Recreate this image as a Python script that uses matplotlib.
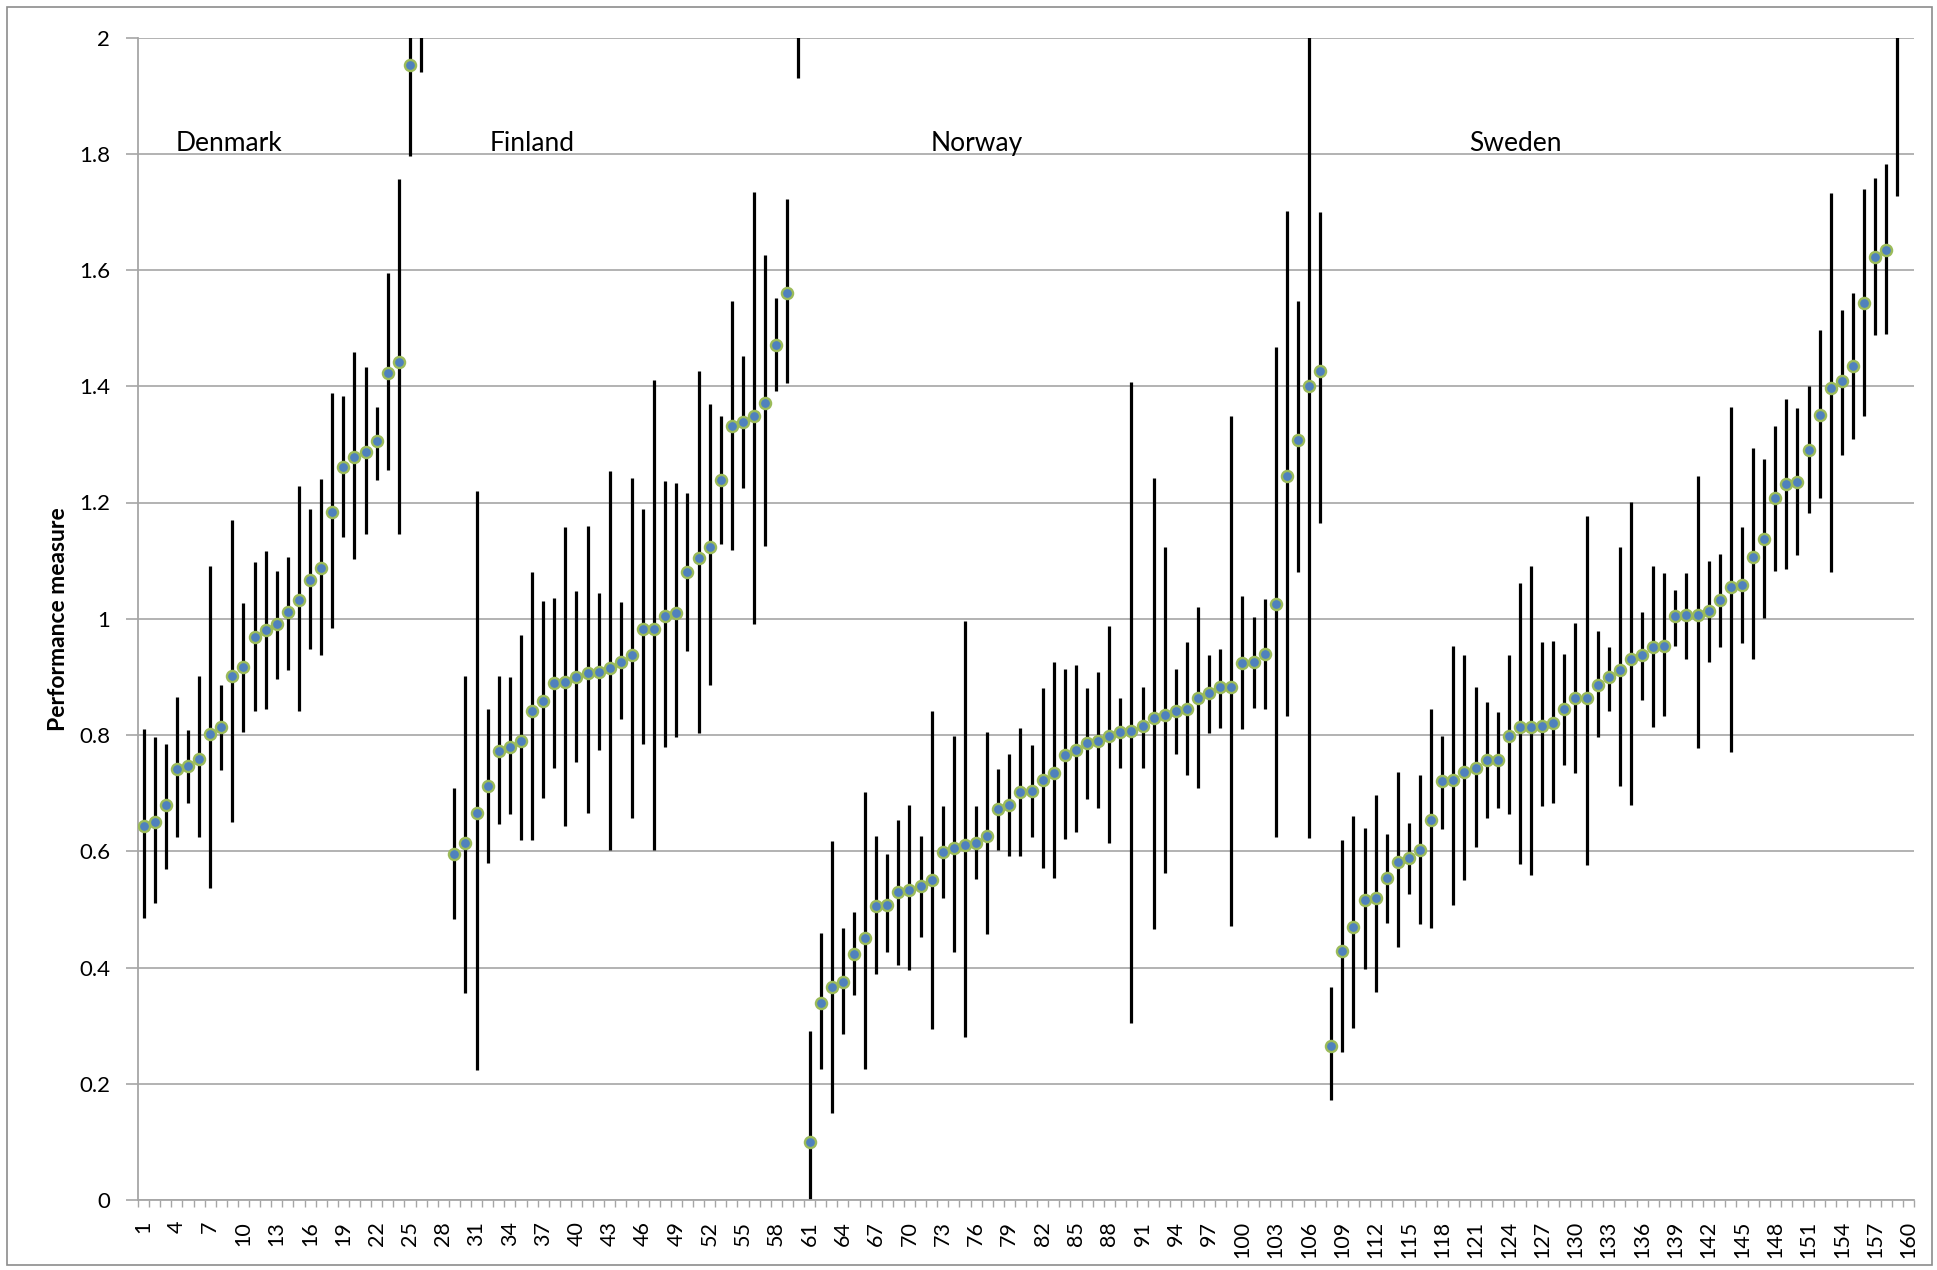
import numpy as np
import matplotlib
matplotlib.use("Agg")
import matplotlib.pyplot as plt
from matplotlib.patches import Rectangle
from matplotlib.ticker import FixedLocator, FuncFormatter

plt.rcParams['font.family'] = ['Lato', 'DejaVu Sans']

# ---------------- data ----------------
n_categories = 160
countries = ["Denmark", "Finland", "Norway", "Sweden"]
country_start = [1, 29, 61, 108]           # first category index of each country
label_x = [3.85, 32.2, 71.9, 120.4]         # category position of the country labels
label_y = 1.805

denmark_est = [0.643, 0.651, 0.679, 0.741, 0.746, 0.759, 0.801, 0.814, 0.902, 0.917,
               0.969, 0.981, 0.991, 1.012, 1.032, 1.066, 1.088, 1.184, 1.261, 1.279,
               1.287, 1.305, 1.423, 1.442, 1.952, 2.15]
denmark_lo = [0.485, 0.511, 0.569, 0.625, 0.683, 0.625, 0.537, 0.739, 0.651, 0.806,
              0.842, 0.845, 0.897, 0.912, 0.842, 0.948, 0.938, 0.984, 1.140, 1.103,
              1.145, 1.239, 1.256, 1.145, 1.796, 1.940]
denmark_hi = [0.811, 0.796, 0.785, 0.865, 0.809, 0.902, 1.091, 0.886, 1.170, 1.027,
              1.097, 1.116, 1.083, 1.106, 1.228, 1.189, 1.241, 1.388, 1.384, 1.459,
              1.433, 1.365, 1.595, 1.757, 2.10, 2.40]

finland_est = [0.595, 0.614, 0.666, 0.712, 0.772, 0.779, 0.790, 0.842, 0.858, 0.889,
               0.891, 0.899, 0.906, 0.908, 0.915, 0.925, 0.938, 0.982, 0.983, 1.004,
               1.010, 1.080, 1.105, 1.123, 1.239, 1.331, 1.338, 1.349, 1.371, 1.471,
               1.561, 2.20]
finland_lo = [0.483, 0.356, 0.224, 0.580, 0.647, 0.664, 0.620, 0.620, 0.692, 0.744,
              0.643, 0.754, 0.666, 0.774, 0.602, 0.827, 0.657, 0.785, 0.602, 0.779,
              0.797, 0.944, 0.803, 0.886, 1.128, 1.119, 1.225, 0.991, 1.125, 1.391,
              1.405, 1.931]
finland_hi = [0.708, 0.902, 1.220, 0.845, 0.902, 0.899, 0.972, 1.080, 1.031, 1.036,
              1.157, 1.048, 1.160, 1.045, 1.254, 1.028, 1.242, 1.188, 1.410, 1.237,
              1.233, 1.217, 1.427, 1.369, 1.348, 1.547, 1.452, 1.735, 1.625, 1.551,
              1.723, 2.50]

norway_est = [0.100, 0.339, 0.366, 0.375, 0.424, 0.450, 0.505, 0.507, 0.530, 0.534,
              0.541, 0.550, 0.598, 0.605, 0.611, 0.614, 0.626, 0.673, 0.679, 0.702,
              0.704, 0.722, 0.735, 0.766, 0.775, 0.787, 0.790, 0.799, 0.806, 0.807,
              0.816, 0.829, 0.834, 0.842, 0.845, 0.863, 0.872, 0.882, 0.882, 0.924,
              0.926, 0.939, 1.026, 1.246, 1.308, 1.400, 1.426]
norway_lo = [-0.10, 0.226, 0.149, 0.285, 0.353, 0.226, 0.388, 0.426, 0.404, 0.395,
             0.453, 0.294, 0.520, 0.426, 0.281, 0.552, 0.457, 0.602, 0.592, 0.592,
             0.624, 0.572, 0.554, 0.621, 0.633, 0.690, 0.675, 0.614, 0.744, 0.304,
             0.744, 0.466, 0.563, 0.768, 0.731, 0.708, 0.803, 0.812, 0.472, 0.810,
             0.847, 0.845, 0.625, 0.832, 1.080, 0.622, 1.164]
norway_hi = [0.291, 0.459, 0.617, 0.468, 0.495, 0.702, 0.627, 0.596, 0.653, 0.679,
             0.627, 0.841, 0.677, 0.798, 0.996, 0.677, 0.806, 0.741, 0.767, 0.812,
             0.783, 0.881, 0.925, 0.913, 0.920, 0.881, 0.908, 0.988, 0.864, 1.408,
             0.882, 1.242, 1.123, 0.913, 0.960, 1.021, 0.937, 0.948, 1.348, 1.039,
             1.003, 1.034, 1.468, 1.701, 1.546, 2.30, 1.699]

sweden_est = [0.265, 0.429, 0.470, 0.516, 0.520, 0.554, 0.582, 0.589, 0.602, 0.653,
              0.721, 0.722, 0.737, 0.744, 0.757, 0.757, 0.798, 0.813, 0.814, 0.815,
              0.821, 0.845, 0.863, 0.864, 0.886, 0.899, 0.912, 0.931, 0.937, 0.951,
              0.953, 1.004, 1.006, 1.006, 1.013, 1.032, 1.054, 1.058, 1.106, 1.137,
              1.207, 1.232, 1.235, 1.291, 1.351, 1.397, 1.409, 1.435, 1.543, 1.622,
              1.635, 2.10]
sweden_lo = [0.172, 0.255, 0.296, 0.397, 0.358, 0.476, 0.436, 0.527, 0.475, 0.468,
             0.638, 0.508, 0.550, 0.608, 0.658, 0.675, 0.664, 0.578, 0.559, 0.677,
             0.683, 0.749, 0.734, 0.576, 0.796, 0.842, 0.713, 0.679, 0.860, 0.814,
             0.833, 0.953, 0.931, 0.777, 0.925, 0.951, 0.770, 0.959, 0.930, 1.001,
             1.083, 1.085, 1.110, 1.182, 1.208, 1.080, 1.282, 1.309, 1.349, 1.488,
             1.490, 1.727]
sweden_hi = [0.366, 0.620, 0.661, 0.640, 0.697, 0.630, 0.736, 0.649, 0.731, 0.845,
             0.799, 0.953, 0.938, 0.882, 0.856, 0.840, 0.938, 1.062, 1.091, 0.960,
             0.961, 0.940, 0.992, 1.177, 0.979, 0.951, 1.123, 1.201, 1.012, 1.091,
             1.078, 1.050, 1.078, 1.246, 1.100, 1.112, 1.365, 1.157, 1.294, 1.274,
             1.331, 1.378, 1.362, 1.400, 1.497, 1.733, 1.532, 1.560, 1.739, 1.758,
             1.783, 2.40]

estimates = [denmark_est, finland_est, norway_est, sweden_est]
lowers = [denmark_lo, finland_lo, norway_lo, sweden_lo]
uppers = [denmark_hi, finland_hi, norway_hi, sweden_hi]

y_ticks = [0, 0.2, 0.4, 0.6, 0.8, 1.0, 1.2, 1.4, 1.6, 1.8, 2.0]
x_tick_labels = list(range(1, n_categories + 1, 3))
y_label = "Performance measure"

# ---------------- figure ----------------
W, H = 1937, 1270
fig = plt.figure(figsize=(W / 100, H / 100), dpi=100)
ax = fig.add_axes([138 / W, 1 - 1200 / H, (1914 - 138) / W, (1200 - 37.5) / H])

grid_col = "#A6A6A6"
for start, est, lo, hi in zip(country_start, estimates, lowers, uppers):
    x = np.arange(start, start + len(est))
    est = np.asarray(est); lo = np.asarray(lo); hi = np.asarray(hi)
    ax.vlines(x, lo, hi, colors="black", linewidth=2.3, zorder=2)
    ax.plot(x, est, linestyle="none", marker="o", markersize=8.0,
            markerfacecolor="#4F81BD", markeredgecolor="#9BBB59",
            markeredgewidth=1.7, zorder=3)

for name, lx in zip(countries, label_x):
    ax.text(lx, label_y, name, fontsize=19, color="black", ha="left", va="baseline")

ax.set_xlim(0.5, n_categories + 0.5)
ax.set_ylim(0, 2)
ax.set_yticks(y_ticks)
ax.yaxis.set_major_formatter(FuncFormatter(lambda v, p: f"{v:g}"))
ax.grid(axis="y", color=grid_col, linewidth=1.2, zorder=0)
ax.set_axisbelow(True)

ax.xaxis.set_major_locator(FixedLocator(x_tick_labels))
ax.set_xticklabels([str(v) for v in x_tick_labels], rotation=90, fontsize=15.5)
ax.xaxis.set_minor_locator(FixedLocator(np.arange(0.5, n_categories + 1, 1.0)))
ax.tick_params(axis="x", which="major", length=0, pad=15)
ax.tick_params(axis="x", which="minor", length=5, width=1, color=grid_col)
ax.tick_params(axis="y", which="major", length=9, width=1.2, color=grid_col,
               labelsize=16, pad=11)

for s in ["top", "right"]:
    ax.spines[s].set_visible(False)
for s in ["left", "bottom"]:
    ax.spines[s].set_color(grid_col)
    ax.spines[s].set_linewidth(1.3)

ax.set_ylabel(y_label, fontsize=16.5, fontweight="bold", labelpad=7)

fig.patches.append(Rectangle((7 / W, 5 / H), (1932 - 7) / W, (1265 - 7) / H,
                             transform=fig.transFigure, fill=False,
                             edgecolor="#8C8C8C", linewidth=1.2))

fig.savefig("out.png", dpi=100)
